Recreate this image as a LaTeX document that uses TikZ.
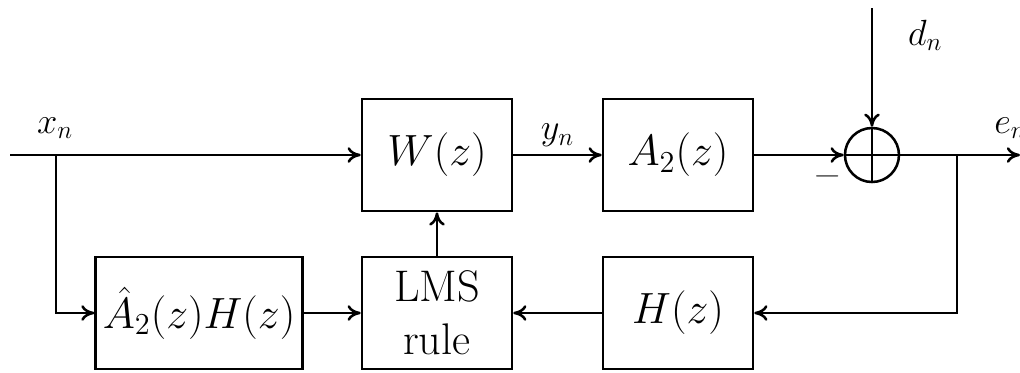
\documentclass[tikz,border=0pt]{standalone}
\usetikzlibrary{arrows.meta}

\tikzset{blk/.style={draw,line width=1.2pt,minimum width=2.5cm,minimum height=1.87cm,
    font=\fontsize{21}{25}\selectfont,align=center},
  lbl/.style={font=\fontsize{18}{21}\selectfont},
  sig/.style={line width=1.2pt,-{To[length=2.2mm,width=2.6mm]}}}

\begin{document}
\begin{tikzpicture}
\useasboundingbox (0,0) rectangle (17,6.2167);

% forward path
\node[blk] (W) at (7.283,3.633) {$W(z)$};
\node[blk] (A) at (11.3,3.633) {$A_2(z)$};
\node[draw,circle,line width=1.2pt,minimum size=0.9cm,inner sep=0pt] (S) at (14.533,3.633) {};
\draw[line width=1.2pt] (S.north) -- (S.south) (S.west) -- (S.east);

% adaptation path
\node[blk,minimum width=3.3cm] (AH) at (3.317,1.0) {$\hat{A}_2(z)H(z)$};
\node[blk] (L) at (7.283,1.0) {LMS\\rule};
\node[blk] (H) at (11.3,1.0) {$H(z)$};

\coordinate (in) at (0.167,3.633);
\coordinate (br) at (0.933,3.633);
\coordinate (d) at (14.533,6.083);
\coordinate (fb) at (15.95,3.633);
\coordinate (out) at (17,3.633);

\node[lbl] (xn) at (0.92,4.08) {$x_n$};
\node[lbl] (dn) at (15.42,5.63) {$d_n$};
\node[lbl,anchor=west] (en) at (16.45,4.08) {$e_n$};
\node[lbl,text=black!70] (minus) at (13.8,3.28) {$-$};

\draw[sig] (in) -- (W);
\draw[sig] (W) -- node[lbl,above] (yn) {$y_n$} (A);
\draw[sig] (A) -- (S);
\draw[sig] (d) -- (S);
\draw[sig] (S) -- (out);

\draw[sig] (br) |- (AH);
\draw[sig] (AH) -- (L);
\draw[sig] (fb) |- (H);
\draw[sig] (H) -- (L);
\draw[sig] (L) -- (W);

\end{tikzpicture}
\end{document}
